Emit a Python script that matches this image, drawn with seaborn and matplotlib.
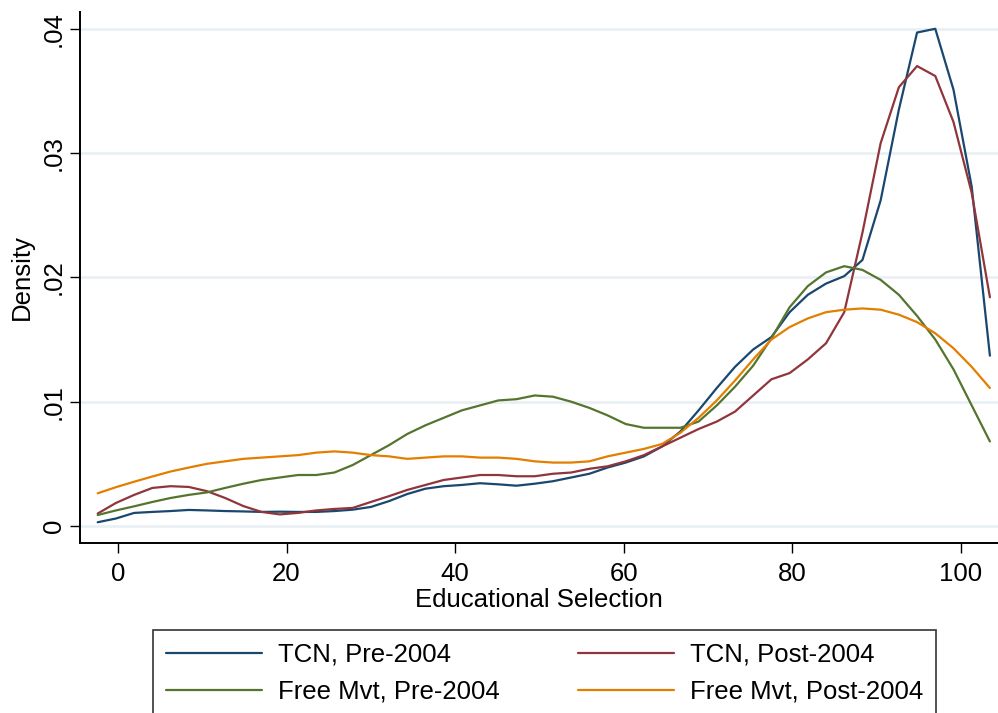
import matplotlib
matplotlib.use("Agg")
import matplotlib.pyplot as plt
from matplotlib.lines import Line2D
import pandas as pd
import seaborn as sns

# ---- data ----
x_vals = [-2.40, -0.24, 1.92, 4.08, 6.24, 8.40, 10.56, 12.72, 14.88, 17.04,
          19.20, 21.36, 23.52, 25.68, 27.84, 30.00, 32.16, 34.32, 36.48, 38.64,
          40.80, 42.96, 45.12, 47.28, 49.44, 51.60, 53.76, 55.92, 58.08, 60.24,
          62.40, 64.56, 66.72, 68.88, 71.04, 73.20, 75.36, 77.52, 79.68, 81.84,
          84.00, 86.16, 88.32, 90.48, 92.64, 94.80, 96.96, 99.12, 101.28, 103.44]

tcn_pre = [0.0003, 0.0006, 0.00105, 0.00113, 0.0012, 0.00129, 0.00125, 0.0012, 0.00117, 0.00113,
           0.00115, 0.00113, 0.00113, 0.0012, 0.00131, 0.00153, 0.0020, 0.00257, 0.0030, 0.0032,
           0.0033, 0.00344, 0.00335, 0.00324, 0.0034, 0.0036, 0.0039, 0.0042, 0.0047, 0.0051,
           0.0056, 0.0064, 0.0076, 0.0093, 0.0111, 0.0128, 0.0142, 0.0152, 0.0172, 0.0186,
           0.0195, 0.0201, 0.0214, 0.0262, 0.0335, 0.0397, 0.0400, 0.0351, 0.0273, 0.0137]

tcn_post = [0.0010, 0.00185, 0.0025, 0.00306, 0.0032, 0.00314, 0.0028, 0.00225, 0.0016, 0.00113,
            0.00093, 0.00105, 0.00125, 0.00137, 0.00145, 0.00193, 0.0024, 0.0029, 0.0033, 0.0037,
            0.0039, 0.0041, 0.0041, 0.0040, 0.0040, 0.0042, 0.0043, 0.0046, 0.0048, 0.0052,
            0.0057, 0.0064, 0.0071, 0.0078, 0.0084, 0.0092, 0.0105, 0.0118, 0.0123, 0.0134,
            0.0147, 0.0172, 0.0236, 0.0308, 0.0353, 0.0370, 0.0362, 0.0325, 0.0268, 0.0184]

free_pre = [0.00088, 0.00125, 0.00158, 0.00193, 0.00225, 0.0025, 0.0027, 0.00306, 0.0034, 0.0037,
            0.0039, 0.0041, 0.0041, 0.0043, 0.0049, 0.0057, 0.0065, 0.0074, 0.0081, 0.0087,
            0.0093, 0.0097, 0.0101, 0.0102, 0.0105, 0.0104, 0.0100, 0.0095, 0.0089, 0.0082,
            0.0079, 0.0079, 0.0079, 0.0084, 0.0097, 0.0112, 0.0129, 0.0151, 0.0176, 0.0193,
            0.0204, 0.0209, 0.0206, 0.0198, 0.0186, 0.0169, 0.0150, 0.0126, 0.0097, 0.0068]

free_post = [0.00263, 0.00312, 0.00356, 0.00398, 0.00438, 0.0047, 0.0050, 0.0052, 0.0054, 0.0055,
             0.0056, 0.0057, 0.0059, 0.0060, 0.0059, 0.0057, 0.0056, 0.0054, 0.0055, 0.0056,
             0.0056, 0.0055, 0.0055, 0.0054, 0.0052, 0.0051, 0.0051, 0.0052, 0.0056, 0.0059,
             0.0062, 0.0066, 0.0075, 0.0087, 0.0101, 0.0117, 0.0134, 0.0150, 0.0160, 0.0167,
             0.0172, 0.0174, 0.0175, 0.0174, 0.0170, 0.0164, 0.0155, 0.0143, 0.0128, 0.0111]

series_names = ["TCN, Pre-2004", "TCN, Post-2004", "Free Mvt, Pre-2004", "Free Mvt, Post-2004"]
y_ticks = [0, 0.01, 0.02, 0.03, 0.04]
y_tick_labels = ["0", ".01", ".02", ".03", ".04"]
x_ticks = [0, 20, 40, 60, 80, 100]

# ---- build long table ----
frames = []
for name, vals in zip(series_names, [tcn_pre, tcn_post, free_pre, free_post]):
    frames.append(pd.DataFrame({"x": x_vals, "Density": vals, "series": name}))
df = pd.concat(frames, ignore_index=True)

palette = {
    "TCN, Pre-2004": "#1a476f",
    "TCN, Post-2004": "#90353b",
    "Free Mvt, Pre-2004": "#55752f",
    "Free Mvt, Post-2004": "#e37e00",
}

sns.set_theme(style="white")
plt.rcParams["font.family"] = ["Liberation Sans", "DejaVu Sans"]
plt.rcParams["text.color"] = "black"
plt.rcParams["axes.labelcolor"] = "black"
plt.rcParams["xtick.color"] = "black"
plt.rcParams["ytick.color"] = "black"
FS = 18.5

fig = plt.figure(figsize=(9.98, 7.13), dpi=100)
ax = fig.add_axes([80 / 998, 1 - 543 / 713, 1 - 80 / 998, (543 - 12) / 713])

sns.lineplot(data=df, x="x", y="Density", hue="series", hue_order=series_names,
             palette=palette, sort=False, linewidth=1.6, ax=ax, legend=False)

ax.set_xlim(-4.5, 104.4)
ax.set_ylim(-0.00137, 0.04135)
ax.set_xticks(x_ticks)
ax.set_xticklabels([str(t) for t in x_ticks], fontsize=FS)
ax.set_yticks(y_ticks)
ax.set_yticklabels(y_tick_labels, fontsize=FS, rotation=90, va="center")
ax.tick_params(axis="both", direction="out", length=7, width=1.0, color="black",
               bottom=True, left=True)
ax.tick_params(axis="x", pad=7)
ax.tick_params(axis="y", pad=3)
ax.grid(axis="y", color="#e9f0f3", linewidth=2.0)
ax.set_axisbelow(True)
for s in ["top", "right"]:
    ax.spines[s].set_visible(False)
for s in ["left", "bottom"]:
    ax.spines[s].set_color("black")
    ax.spines[s].set_linewidth(1.4)

ax.set_xlabel("Educational Selection", fontsize=FS, labelpad=1)
ax.set_ylabel("Density", fontsize=FS, labelpad=6)

# legend (row-major order: TCN Pre | TCN Post / Free Pre | Free Post)
order = ["TCN, Pre-2004", "Free Mvt, Pre-2004", "TCN, Post-2004", "Free Mvt, Post-2004"]
handles = [Line2D([], [], color=palette[n], linewidth=1.6) for n in order]
leg = fig.legend(handles, order, ncol=2, loc="upper left",
                 bbox_to_anchor=(153 / 998, 0, (936 - 153) / 998, 1 - 630 / 713),
                 bbox_transform=fig.transFigure, mode="expand",
                 fontsize=FS, frameon=True, fancybox=False, edgecolor="black",
                 handlelength=3.75, handletextpad=0.6, labelspacing=0.5,
                 borderpad=0.5, borderaxespad=0, columnspacing=1.5)
leg.get_frame().set_linewidth(1.2)

fig.savefig("out.png", dpi=100, facecolor="white")
